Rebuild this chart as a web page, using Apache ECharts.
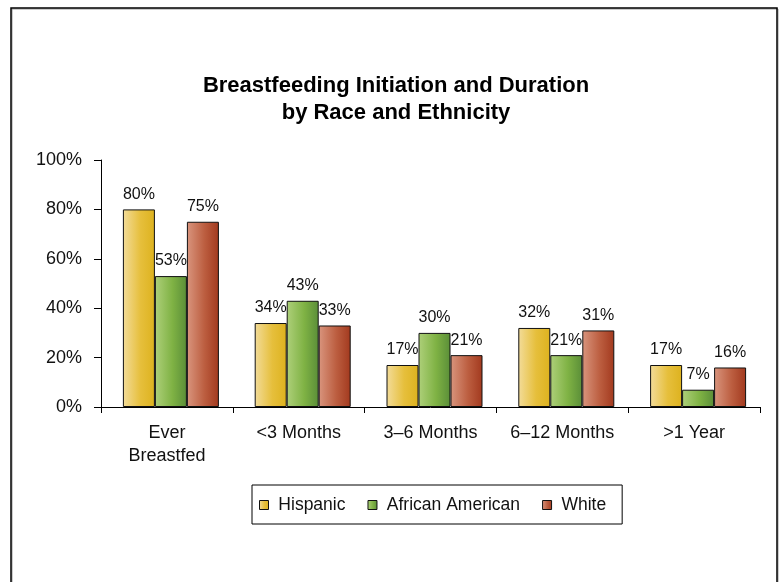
<!DOCTYPE html>
<html>
<head>
<meta charset="utf-8">
<script src="https://cdn.jsdelivr.net/npm/echarts@6/dist/echarts.min.js"></script>
<style>
html,body{margin:0;padding:0;background:#fff;}
#c{width:782px;height:582px;}
</style>
</head>
<body>
<div id="c"></div>
<script>
const titleLines = ['Breastfeeding Initiation and Duration', 'by Race and Ethnicity'];
const categories = ['Ever\nBreastfed', '<3 Months', '3\u20136 Months', '6\u201312 Months', '>1 Year'];
const hispanic = [80, 34, 17, 32, 17];
const africanAmerican = [53, 43, 30, 21, 7];
const white = [75, 33, 21, 31, 16];
const yTicks = [0, 20, 40, 60, 80, 100];

function grad(a, b, c) {
  return new echarts.graphic.LinearGradient(0, 0, 1, 0, [
    { offset: 0, color: a }, { offset: 0.55, color: b }, { offset: 1, color: c }
  ]);
}
const colors = {
  hispanic: grad('#F3DC9A', '#E6BF3C', '#DDB21E'),
  aa: grad('#AED07A', '#7FB244', '#5A8E38'),
  white: grad('#D9957E', '#BC5E40', '#A2391E')
};
const FONT = '"Liberation Sans", Arial, Helvetica, sans-serif';

const chart = echarts.init(document.getElementById('c'), null, { renderer: 'canvas' });
const labelStyle = {
  show: true, position: 'top', distance: 7,
  formatter: p => p.value + '%',
  fontFamily: FONT, fontSize: 16, color: '#111'
};
function mk(name, data, color) {
  return {
    name, type: 'bar', data,
    barGap: '0%', barWidth: 32,
    itemStyle: { color, borderColor: '#111', borderWidth: 1 },
    label: labelStyle
  };
}
chart.setOption({
  animation: false,
  backgroundColor: '#fff',
  textStyle: { fontFamily: FONT },
  graphic: [
    { type: 'rect', shape: { x: 12, y: 9, width: 766, height: 620 }, style: { fill: 'none', stroke: '#999', lineWidth: 1 }, z: 0, silent: true },
    { type: 'rect', shape: { x: 11, y: 8, width: 766, height: 620 }, style: { fill: 'none', stroke: '#000', lineWidth: 1.5 }, z: 1, silent: true },
    { type: 'text', x: 396, y: 86, style: { text: titleLines[0], textAlign: 'center', textVerticalAlign: 'middle', font: 'bold 22px ' + FONT, fill: '#000' } },
    { type: 'text', x: 396, y: 113, style: { text: titleLines[1], textAlign: 'center', textVerticalAlign: 'middle', font: 'bold 22px ' + FONT, fill: '#000' } }
  ],
  legend: {
    data: ['Hispanic', 'African American', 'White'],
    left: 252, top: 485, orient: 'horizontal',
    icon: 'rect',
    itemWidth: 9, itemHeight: 9, itemGap: 22,
    padding: [11, 16, 10, 7],
    formatter: n => ' ' + n,
    borderColor: '#000', borderWidth: 1,
    textStyle: { fontFamily: FONT, fontSize: 17.5, color: '#111' },
    itemStyle: { borderColor: '#111', borderWidth: 1 }
  },
  grid: { left: 101, right: 22, top: 160, bottom: 175, containLabel: false },
  xAxis: {
    type: 'category', data: categories,
    axisLine: { lineStyle: { color: '#000', width: 1 } },
    axisTick: { show: true, alignWithLabel: false, length: 6, lineStyle: { color: '#000' } },
    axisLabel: { fontSize: 18, color: '#111', margin: 15, lineHeight: 23, interval: 0 }
  },
  yAxis: {
    type: 'value', min: 0, max: 100, interval: 20,
    axisLine: { show: true, lineStyle: { color: '#000', width: 1 } },
    axisTick: { show: true, length: 7, lineStyle: { color: '#000' } },
    splitLine: { show: false },
    axisLabel: { fontSize: 18, color: '#111', margin: 19, formatter: v => yTicks.includes(v) ? v + '%' : '' }
  },
  series: [
    { name: 'spacer', type: 'bar', data: categories.map(() => null), barWidth: 8, barGap: '0%', silent: true, itemStyle: { color: 'transparent' }, label: { show: false } },
    mk('Hispanic', hispanic, colors.hispanic),
    mk('African American', africanAmerican, colors.aa),
    mk('White', white, colors.white)
  ]
});
</script>
</body>
</html>
